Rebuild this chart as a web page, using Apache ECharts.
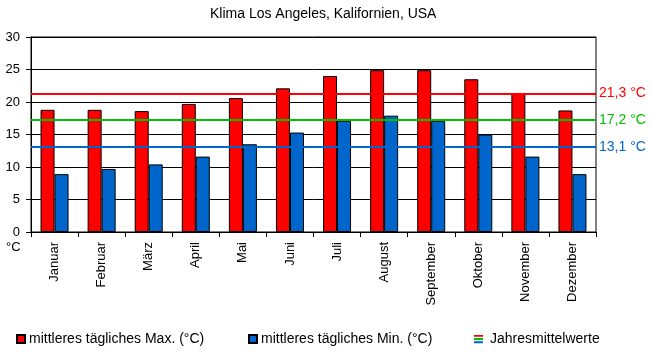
<!DOCTYPE html>
<html>
<head>
<meta charset="utf-8">
<script src="https://cdn.jsdelivr.net/npm/echarts@6/dist/echarts.min.js"></script>
<style>
html,body{margin:0;padding:0;background:#fff;}
#main{width:651px;height:352px;}
</style>
</head>
<body>
<div id="main"></div>
<script>
// Monatsnamen und Werte
var months = ['Januar','Februar','März','April','Mai','Juni','Juli','August','September','Oktober','November','Dezember'];
var maxTemp = [18.8, 18.8, 18.6, 19.7, 20.6, 22.1, 24.0, 24.9, 24.9, 23.5, 21.3, 18.7];
var minTemp = [8.9, 9.7, 10.4, 11.6, 13.5, 15.3, 17.1, 17.9, 17.1, 15.0, 11.6, 8.9];
// Jahresmittel: max, mittel, min
var yearMeans = [21.3, 17.2, 13.1];
var yearMeanLabels = ['21,3 °C', '17,2 °C', '13,1 °C'];
var meanColors = ['#ff0000', '#00c000', '#0066cc'];

var FONT = '"Liberation Sans", Arial, sans-serif';

var stripes = "<svg xmlns='http://www.w3.org/2000/svg' width='8' height='8'>" +
    "<rect y='0' width='8' height='2' fill='#ff0000'/>" +
    "<rect y='3' width='8' height='2' fill='#00c000'/>" +
    "<rect y='6' width='8' height='2' fill='#0066cc'/></svg>";
var stripeIcon = 'image://data:image/svg+xml;charset=utf-8,' + encodeURIComponent(stripes);

var markData = [];
for (var i = 0; i < yearMeans.length; i++) {
    markData.push({
        yAxis: yearMeans[i],
        lineStyle: {color: meanColors[i], width: 2, type: 'solid'},
        label: {show: true, position: 'end', formatter: yearMeanLabels[i], color: meanColors[i],
            fontSize: 14, fontFamily: FONT, distance: 3}
    });
}

var myChart = echarts.init(document.getElementById('main'));
var legendCommon = {
    bottom: 6, padding: 0, itemWidth: 8, itemHeight: 8, itemGap: 3,
    textStyle: {fontSize: 14, fontFamily: FONT, color: '#000', padding: [0, 0, 0, -1]}
};
var option = {
    backgroundColor: '#fff',
    animation: false,
    title: {
        text: 'Klima Los Angeles, Kalifornien, USA',
        left: 205,
        top: 2,
        textStyle: {fontSize: 14, fontWeight: 'normal', color: '#000', fontFamily: FONT}
    },
    legend: [
        Object.assign({}, legendCommon, {left: 16, data: [{name: 'mittleres tägliches Max. (°C)', icon: 'rect'}]}),
        Object.assign({}, legendCommon, {left: 248, data: [{name: 'mittleres tägliches Min. (°C)', icon: 'rect'}]}),
        Object.assign({}, legendCommon, {left: 474, itemWidth: 9, itemHeight: 9,
            textStyle: {fontSize: 14, fontFamily: FONT, color: '#000', padding: [0, 0, 0, 2]},
            data: [{name: 'Jahresmittelwerte', icon: stripeIcon}]})
    ],
    grid: {left: 31, right: 55, top: 37, bottom: 120, show: true, borderColor: '#000', borderWidth: 1},
    graphic: [{type: 'text', left: 6, top: 241,
        style: {text: '°C', fontSize: 13, fontFamily: FONT, fill: '#000'}}],
    xAxis: {
        type: 'category',
        data: months,
        axisLine: {lineStyle: {color: '#000'}},
        axisTick: {show: true, interval: 0, length: 5, lineStyle: {color: '#000'}},
        axisLabel: {rotate: 90, interval: 0, margin: 10, fontSize: 13, fontFamily: FONT, color: '#000'}
    },
    yAxis: {
        type: 'value',
        min: 0, max: 30, interval: 5,
        axisLine: {show: true, lineStyle: {color: '#000'}},
        axisTick: {show: true, length: 5, lineStyle: {color: '#000'}},
        axisLabel: {fontSize: 13, fontFamily: FONT, color: '#000', margin: 11},
        splitLine: {lineStyle: {color: '#000', width: 1}}
    },
    series: [
        {
            name: 'mittleres tägliches Max. (°C)',
            type: 'bar',
            data: maxTemp,
            barWidth: 14,
            barGap: '0%',
            itemStyle: {color: '#ff0000', borderColor: '#000', borderWidth: 1}
        },
        {
            name: 'mittleres tägliches Min. (°C)',
            type: 'bar',
            data: minTemp,
            barWidth: 14,
            barGap: '0%',
            itemStyle: {color: '#0066cc', borderColor: '#000', borderWidth: 1}
        },
        {
            name: 'Jahresmittelwerte',
            type: 'line',
            data: [],
            itemStyle: {color: '#00c000'},
            markLine: {symbol: ['none', 'none'], silent: true, data: markData}
        }
    ]
};
myChart.setOption(option);
</script>
</body>
</html>
